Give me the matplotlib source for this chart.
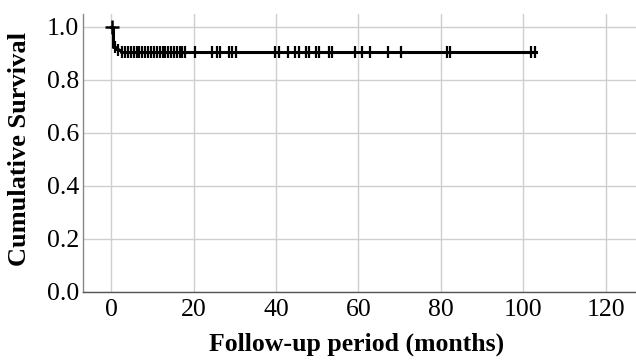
import numpy as np
import matplotlib
matplotlib.use("Agg")
import matplotlib.pyplot as plt

# Step survival curve (Kaplan-Meier)
step_times = [0.0, 0.5, 1.2, 1.6, 2.4, 103.0]
survival = [1.0, 0.925, 0.918, 0.912, 0.906, 0.906]

# Censored observation times (months)
censor_times = [0.3, 1.0, 1.8, 2.6, 3.4, 4.1, 4.8, 5.5, 6.2, 6.9, 7.6, 8.3, 9.0,
                9.7, 10.4, 11.1, 11.8, 12.5, 13.2, 13.9, 14.6, 15.3, 16.0, 16.7,
                17.3, 18.0, 20.4, 24.5, 25.6, 26.5, 28.5, 29.3, 30.2, 39.8, 40.7,
                42.8, 44.7, 45.6, 47.2, 48.0, 49.7, 50.5, 52.8, 53.6, 59.1, 60.9,
                62.9, 67.2, 70.2, 81.4, 82.3, 101.8, 102.7]

xticks = [0, 20, 40, 60, 80, 100, 120]
yticks = [0.0, 0.2, 0.4, 0.6, 0.8, 1.0]

plt.rcParams['font.family'] = ['Liberation Serif', 'DejaVu Serif']

fig = plt.figure(figsize=(6.36, 3.61), dpi=100)
ax = fig.add_axes([83/636, (361-292)/361, 553/636, (292-14)/361])

ax.step(step_times, survival, where='post', color='black', lw=2.2, zorder=3)

st = np.array(step_times)
sv = np.array(survival)
ct = np.array(censor_times)
idx = np.searchsorted(st, ct, side='right') - 1
cs = sv[idx]
ax.plot(ct[1:], cs[1:], linestyle='none', marker='|', ms=8.5, mew=1.6,
        color='black', zorder=4)
ax.plot(ct[:1], cs[:1], linestyle='none', marker='+', ms=9.5, mew=1.8,
        color='black', zorder=4)

ax.set_xlim(-6.8, 127.3)
ax.set_ylim(0, 1.049)
ax.set_xticks(xticks)
ax.set_yticks(yticks)
ax.set_xticklabels([str(v) for v in xticks])
ax.set_yticklabels([f"{v:.1f}" for v in yticks])
ax.tick_params(length=0, labelsize=18.5)
ax.tick_params(axis='y', pad=3)
ax.tick_params(axis='x', pad=5)
ax.grid(True, color='#cfcfcf', lw=1)
ax.set_axisbelow(True)
for s in ['top', 'right']:
    ax.spines[s].set_visible(False)
ax.spines['left'].set_color('#888888')
ax.spines['bottom'].set_color('#555555')
ax.spines['left'].set_linewidth(1)
ax.spines['bottom'].set_linewidth(1)

fig.text(357/636, (361-344)/361, 'Follow-up period (months)', fontsize=18.5,
         fontweight='bold', ha='center', va='center')
fig.text(20/636, (361-149)/361, 'Cumulative Survival', fontsize=19,
         fontweight='bold', ha='center', va='center', rotation=90)

fig.savefig('out.png', dpi=100)
